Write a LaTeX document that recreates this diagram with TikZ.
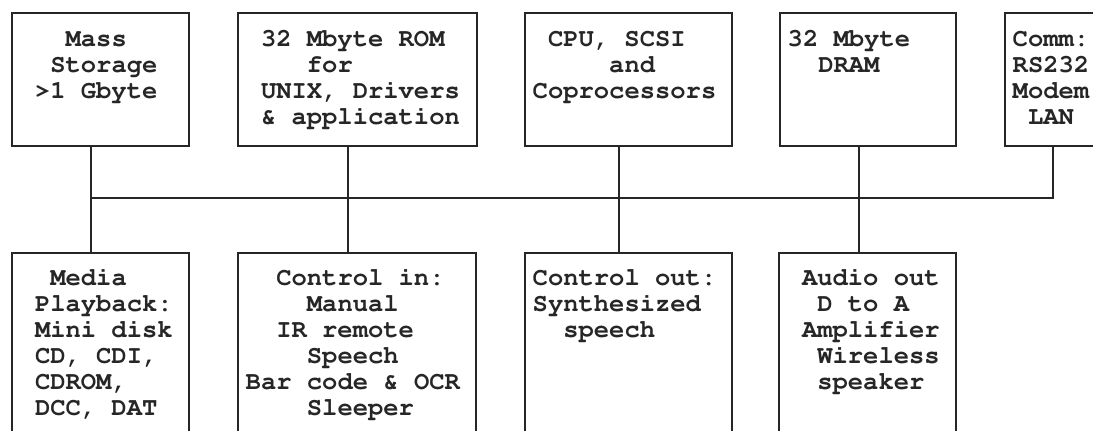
\documentclass[tikz,border=0pt]{standalone}
\usepackage[T1]{fontenc}
\begin{document}
\begin{tikzpicture}[x=1pt,y=-1pt,
    unit/.style={draw=black!85,line width=1.8pt,rectangle,anchor=north west,inner sep=0pt},
    boxtext/.style={anchor=north west,align=left,inner sep=0pt,text=black!85,
      font=\fontfamily{pcr}\fontseries{b}\fontsize{25.5}{26}\selectfont\frenchspacing},
    bus/.style={draw=black!85,line width=1.8pt}]
  \useasboundingbox (0,0) rectangle (1093,431);
  \clip (0,0) rectangle (1093,431);

  % 上排方框
  \node[unit,minimum width=177,minimum height=133] (storage) at (11,12) {};
  \node[unit,minimum width=239,minimum height=133] (rom) at (237,12) {};
  \node[unit,minimum width=207,minimum height=133] (cpu) at (524,12) {};
  \node[unit,minimum width=176,minimum height=133] (dram) at (779,12) {};
  \node[unit,minimum width=176,minimum height=133] (comm) at (1004,12) {};

  \node[boxtext] (storagetxt) at ([shift={(8.5,15.8)}]storage.north west)
    {\strut~~~Mass\\~~Storage\\~>1 Gbyte};
  \node[boxtext] (romtxt) at ([shift={(8.5,15.8)}]rom.north west)
    {\strut~32 Mbyte ROM\\~~~~for\\~UNIX, Drivers\\~\& application};
  \node[boxtext] (cputxt) at ([shift={(8.5,15.8)}]cpu.north west)
    {\strut~CPU, SCSI\\~~~~~and\\Coprocessors};
  \node[boxtext] (dramtxt) at ([shift={(8.5,15.8)}]dram.north west)
    {\strut32 Mbyte\\~~DRAM};
  \node[boxtext] (commtxt) at ([shift={(8.5,15.8)}]comm.north west)
    {\strut Comm:\\RS232\\Modem\\~LAN};

  % 下排方框（超出画面部分被裁掉）
  \node[unit,minimum width=177,minimum height=220] (media) at (11,252) {};
  \node[unit,minimum width=238,minimum height=220] (ctrlin) at (237,252) {};
  \node[unit,minimum width=207,minimum height=220] (ctrlout) at (524,252) {};
  \node[unit,minimum width=177,minimum height=220] (audio) at (778,252) {};

  \node[boxtext] (mediatxt) at ([shift={(8.5,14.8)}]media.north west)
    {\strut~~Media\\~Playback:\\~Mini disk\\~CD, CDI,\\~CDROM,\\~DCC, DAT};
  \node[boxtext] (ctrlintxt) at ([shift={(8.5,14.8)}]ctrlin.north west)
    {\strut~~Control in:\\~~~~Manual\\~~IR remote\\~~~~Speech\\Bar code \& OCR\\~~~~Sleeper};
  \node[boxtext] (ctrlouttxt) at ([shift={(8.5,14.8)}]ctrlout.north west)
    {\strut Control out:\\Synthesized\\~~speech};
  \node[boxtext] (audiotxt) at ([shift={(8.5,14.8)}]audio.north west)
    {\strut~Audio out\\~~D to A\\~Amplifier\\~~Wireless\\~~speaker};

  % 总线与各支路
  \coordinate (j1) at (91,198);
  \coordinate (j2) at (348,198);
  \coordinate (j3) at (619,198);
  \coordinate (j4) at (859,198);
  \coordinate (j5) at (1053,198);
  \draw[bus] (j1 |- storage.south) -- (j1 |- media.north);
  \draw[bus] (j2 |- rom.south) -- (j2 |- ctrlin.north);
  \draw[bus] (j3 |- cpu.south) -- (j3 |- ctrlout.north);
  \draw[bus] (j4 |- dram.south) -- (j4 |- audio.north);
  \draw[bus] (j5 |- comm.south) -- (j5) -- (j1);
\end{tikzpicture}
\end{document}
